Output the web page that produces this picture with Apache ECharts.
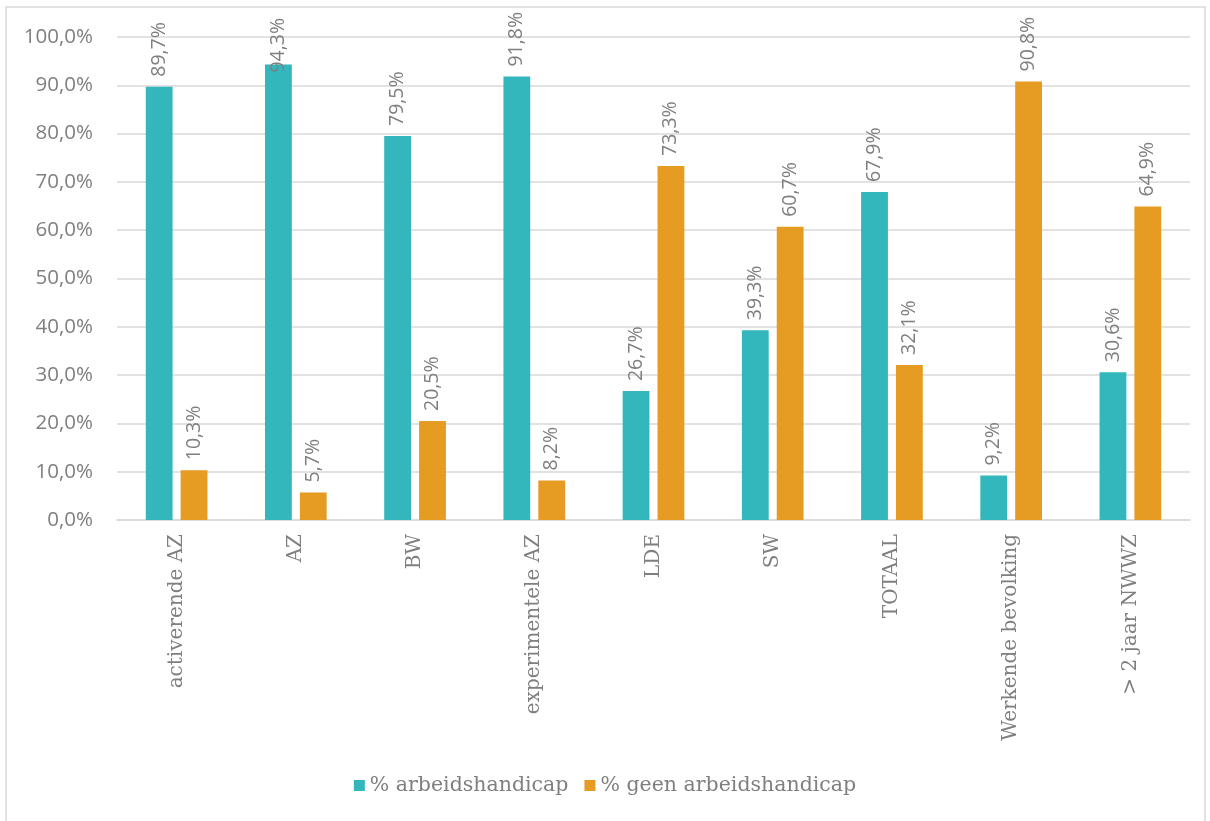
<!DOCTYPE html>
<html><head><meta charset="utf-8">
<script src="https://cdn.jsdelivr.net/npm/echarts@6/dist/echarts.min.js"></script>
<style>html,body{margin:0;padding:0;background:#fff}#c{width:1210px;height:821px}</style>
</head><body><div id="c"></div>
<script>
const categories = ['activerende AZ','AZ','BW','experimentele AZ','LDE','SW','TOTAAL','Werkende bevolking','> 2 jaar NWWZ'];
const seriesNames = ['% arbeidshandicap','% geen arbeidshandicap'];
const metHandicap = [89.7,94.3,79.5,91.8,26.7,39.3,67.9,9.2,30.6];
const geenHandicap = [10.3,5.7,20.5,8.2,73.3,60.7,32.1,90.8,64.9];
const fmt = v => v.toFixed(1).replace('.', ',') + '%';
const chart = echarts.init(document.getElementById('c'));
const lbl = {show:true, position:'top', rotate:90, align:'left', verticalAlign:'middle', distance:10,
  color:'#7f7f7f', fontSize:19.5, fontFamily:'"Open Sans", Lato, sans-serif', formatter:p=>fmt(p.value)};
// labels that would not fit above the plot are pushed down into the bar (as Excel does)
const withFit = arr => arr.map(v => v > 93 ? {value:v, label:{distance:-8}} : v);
chart.setOption({
  animation:false,
  graphic:[{type:'rect', shape:{x:6,y:7,width:1199,height:830}, style:{fill:'none', stroke:'#d9d9d9', lineWidth:1.5}, silent:true}],
  grid:{left:117, right:20, top:37, bottom:301, containLabel:false},
  legend:{bottom:20, left:'center', itemWidth:11, itemHeight:11, itemGap:16, icon:'rect',
    textStyle:{color:'#7f7f7f', fontSize:20.5, fontFamily:'"DejaVu Serif", serif'}},
  xAxis:{type:'category', data:categories, axisLine:{lineStyle:{color:'#d9d9d9', width:1.5}}, axisTick:{show:false},
    axisLabel:{rotate:90, color:'#7f7f7f', fontSize:20, fontFamily:'"DejaVu Serif", serif', margin:14, interval:0}},
  yAxis:{type:'value', min:0, max:100, interval:10, axisLine:{show:false}, axisTick:{show:false},
    splitLine:{lineStyle:{color:'#d9d9d9', width:1.5}},
    axisLabel:{color:'#7f7f7f', fontSize:20.5, fontFamily:'"Open Sans", Lato, sans-serif', margin:24, formatter:v=>fmt(v)}},
  series:[
    {name:seriesNames[0], type:'bar', data:withFit(metHandicap), barWidth:'22.5%', barGap:'30%', itemStyle:{color:'#33B7BC'}, label:lbl},
    {name:seriesNames[1], type:'bar', data:withFit(geenHandicap), barWidth:'22.5%', itemStyle:{color:'#E69B22'}, label:lbl}
  ]
});
</script></body></html>
